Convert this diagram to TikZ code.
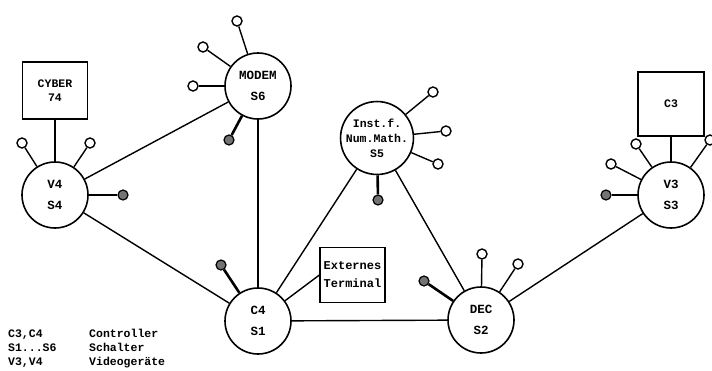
\documentclass[tikz,border=0pt]{standalone}
\usepackage{fontspec}
\setmonofont{Liberation Mono}
\begin{document}
\begin{tikzpicture}[x=1pt,y=-1pt,
  big/.style={circle,draw,line width=1.6pt,minimum size=66pt,inner sep=0pt,align=center,
    font=\ttfamily\bfseries\fontsize{12.5}{21}\selectfont},
  bigs/.style={big,font=\ttfamily\bfseries\fontsize{11.5}{15}\selectfont},
  box/.style={rectangle,draw,line width=1.2pt,inner sep=0pt,align=center,
    font=\ttfamily\bfseries\fontsize{11.5}{14}\selectfont},
  openc/.style={circle,draw,line width=1.4pt,minimum size=10pt,inner sep=0pt,fill=white},
  hatchc/.style={circle,draw,line width=1.2pt,minimum size=10pt,inner sep=0pt,fill=black!55},
  link/.style={line width=1.4pt},
  thin/.style={line width=1.1pt},
  spoke/.style={line width=1.4pt},
  hspoke/.style={line width=2.6pt},
  legend/.style={anchor=base west,inner sep=0pt,font=\ttfamily\bfseries\fontsize{11.5}{14}\selectfont}]
\useasboundingbox (0,0) rectangle (712,370);
\fill[white] (0,0) rectangle (712,370);

% main nodes
\node[big] (V4) at (55,195) {V4\\S4};
\node[big] (MODEM) at (258,86) {MODEM\\S6};
\node[bigs] (INST) at (377,138) {Inst.f.\\Num.Math.\\S5};
\node[big] (C4) at (258,321) {C4\\S1};
\node[big] (DEC) at (481,320) {DEC\\S2};
\node[big] (V3) at (671,195) {V3\\S3};

\node[box,minimum width=65pt,minimum height=57pt] (CYBER) at (55,90.5) {CYBER\\74};
\node[box,minimum width=66pt,minimum height=64pt] (C3) at (671,104) {C3};
\node[box,minimum width=65pt,minimum height=55pt,font=\ttfamily\bfseries\fontsize{12}{18}\selectfont] (EXT) at (352.5,275) {Externes\\Terminal};

% connectors
\draw[link] (MODEM) -- (V4);
\draw[link] (V4) -- (C4);
\draw[link] (MODEM) -- (C4);
\draw[link] (C4) -- (INST);
\draw[link] (INST) -- (DEC);
\draw[link] (C4) -- (DEC);
\draw[link] (DEC) -- (V3);
\draw[link] (C4) -- (EXT.west);
\draw[thin] (CYBER) -- (V4);
\draw[thin] (C3) -- (V3);

% V4 terminals
\node[openc] (v4a) at (22,143) {};
\node[openc] (v4b) at (90,143) {};
\node[hatchc] (v4h) at (123,195) {};
\draw[spoke] (V4) -- (v4a);
\draw[spoke] (V4) -- (v4b);
\draw[hspoke] (V4) -- (v4h);

% MODEM terminals
\node[openc] (ma) at (237,21) {};
\node[openc] (mb) at (203,47) {};
\node[openc] (mc) at (193,86) {};
\node[hatchc] (mh) at (229,140) {};
\draw[spoke] (MODEM) -- (ma);
\draw[spoke] (MODEM) -- (mb);
\draw[spoke] (MODEM) -- (mc);
\draw[hspoke] (MODEM) -- (mh);

% INST terminals
\node[openc] (ia) at (433,92) {};
\node[openc] (ib) at (446,131) {};
\node[openc] (ic) at (438,164) {};
\node[hatchc] (ih) at (378,200) {};
\draw[spoke] (INST) -- (ia);
\draw[spoke] (INST) -- (ib);
\draw[spoke] (INST) -- (ic);
\draw[hspoke] (INST) -- (ih);

% C4 terminal
\node[hatchc] (ch) at (221,265) {};
\draw[hspoke] (C4) -- (ch);

% DEC terminals
\node[openc] (da) at (482,254) {};
\node[openc] (db) at (518,264) {};
\node[hatchc] (dh) at (424,281) {};
\draw[spoke] (DEC) -- (da);
\draw[spoke] (DEC) -- (db);
\draw[hspoke] (DEC) -- (dh);

% V3 terminals
\node[openc] (va) at (636,144) {};
\node[openc] (vb) at (611,164) {};
\node[openc] (vc) at (710,140) {};
\node[hatchc] (vh) at (606,195) {};
\draw[spoke] (V3) -- (va);
\draw[spoke] (V3) -- (vb);
\draw[spoke] (V3) -- (vc);
\draw[hspoke] (V3) -- (vh);

% legend
\node[legend] (l1) at (8,337) {C3,C4};
\node[legend] (l2) at (8,351) {S1...S6};
\node[legend] (l3) at (8,365) {V3,V4};
\node[legend] (r1) at (89,337) {Controller};
\node[legend] (r2) at (89,351) {Schalter};
\node[legend] (r3) at (89,365) {Videogeräte};
\end{tikzpicture}
\end{document}
